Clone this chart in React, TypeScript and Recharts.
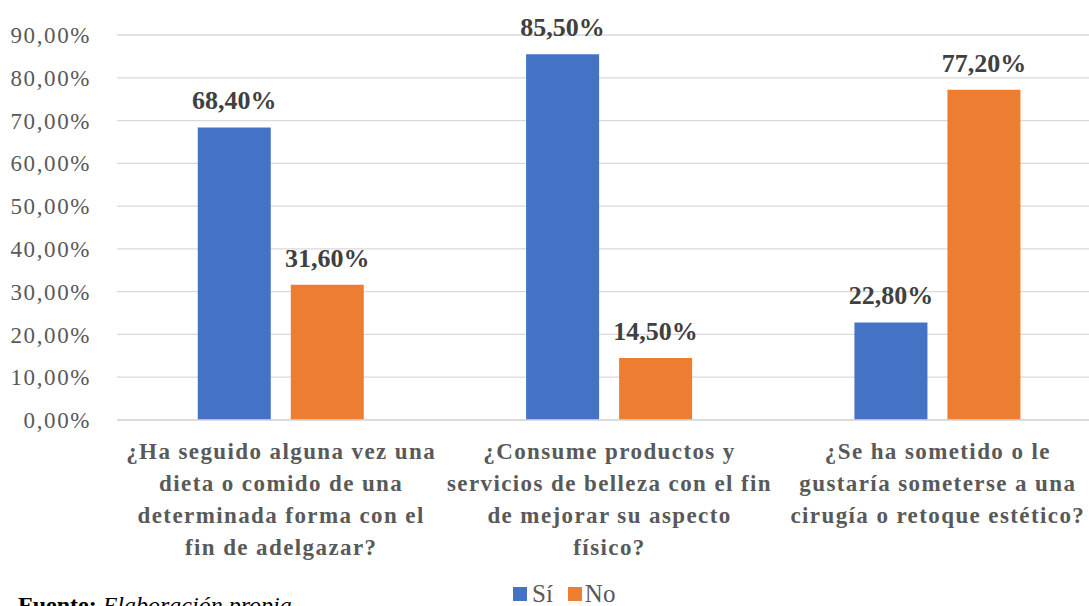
import React from 'react';
import { Bar, BarChart, CartesianGrid, LabelList, Legend, XAxis, YAxis } from 'recharts';

// Survey questions, one label line per entry
const questions = [
  ['¿Ha seguido alguna vez una', 'dieta o comido de una', 'determinada forma con el', 'fin de adelgazar?'],
  ['¿Consume productos y', 'servicios de belleza con el fin', 'de mejorar su aspecto', 'físico?'],
  ['¿Se ha sometido o le', 'gustaría someterse a una', 'cirugía o retoque estético?'],
];
const si = [68.4, 85.5, 22.8];
const no = [31.6, 14.5, 77.2];
const yTicks = [0, 10, 20, 30, 40, 50, 60, 70, 80, 90];

const BLUE = '#4472c4';
const ORANGE = '#ed7d31';
const FONT = 'Liberation Serif';

const data = questions.map((lines, i) => ({
  name: lines.join(' '),
  si: si[i],
  no: no[i],
}));

const pct = (v: number) => v.toFixed(2).replace('.', ',') + '%';

const QuestionTick = (props: any) => {
  const { x, y, index } = props;
  const lines = questions[index] || [];
  return (
    <g transform={`translate(${x},${y})`}>
      {lines.map((line, i) => (
        <text
          key={i}
          x={0}
          y={31 + i * 32}
          textAnchor="middle"
          fill="#595959"
          fontFamily={FONT}
          fontWeight="bold"
          fontSize={23}
          letterSpacing={1.4}
        >
          {line}
        </text>
      ))}
    </g>
  );
};

const LegendContent = () => (
  <div style={{ display: 'flex', fontFamily: FONT, fontSize: 25, color: '#595959', lineHeight: '28px' }}>
    <span style={{ display: 'flex', alignItems: 'center', marginRight: 15 }}>
      <span style={{ width: 14, height: 14, background: BLUE, marginRight: 5 }} />
      Sí
    </span>
    <span style={{ display: 'flex', alignItems: 'center' }}>
      <span style={{ width: 14, height: 14, background: ORANGE, marginRight: 3 }} />
      No
    </span>
  </div>
);

const labelStyle = { fill: '#404040', fontFamily: FONT, fontWeight: 'bold', fontSize: 26 };

const App = () => {
  return (
    <div style={{ position: 'absolute', left: 0, top: 0, width: 1089, height: 606, overflow: 'hidden', background: '#fff' }}>
      <BarChart
        width={1102}
        height={606}
        data={data}
        margin={{ top: 35, right: 0, bottom: 0, left: 0 }}
        barGap={20}
        barCategoryGap="24.6%"
      >
        <CartesianGrid vertical={false} stroke="#d9d9d9" strokeWidth={1.3} />
        <XAxis
          dataKey="name"
          height={150}
          tick={<QuestionTick />}
          tickLine={false}
          axisLine={{ stroke: '#d9d9d9', strokeWidth: 1.3 }}
          interval={0}
        />
        <YAxis
          width={117}
          domain={[0, 90]}
          ticks={yTicks}
          tickFormatter={pct}
          tickLine={false}
          axisLine={false}
          tick={{ fill: '#595959', fontFamily: FONT, fontSize: 23, letterSpacing: 1.6 }}
          tickMargin={20}
        />
        <Legend
          verticalAlign="bottom"
          height={36}
          content={<LegendContent />}
          wrapperStyle={{ left: 513, top: 580, width: 'auto' }}
        />
        <Bar dataKey="si" name="Sí" fill={BLUE} isAnimationActive={false}>
          <LabelList dataKey="si" position="top" offset={18} formatter={(v: any) => pct(Number(v))} style={labelStyle} />
        </Bar>
        <Bar dataKey="no" name="No" fill={ORANGE} isAnimationActive={false}>
          <LabelList dataKey="no" position="top" offset={18} formatter={(v: any) => pct(Number(v))} style={labelStyle} />
        </Bar>
      </BarChart>
      <div style={{ position: 'absolute', left: 18, top: 592, fontFamily: FONT, fontSize: 24, color: '#000', whiteSpace: 'nowrap' }}>
        <b>Fuente:</b> <i>Elaboración propia</i>
      </div>
    </div>
  );
};

export default App;
